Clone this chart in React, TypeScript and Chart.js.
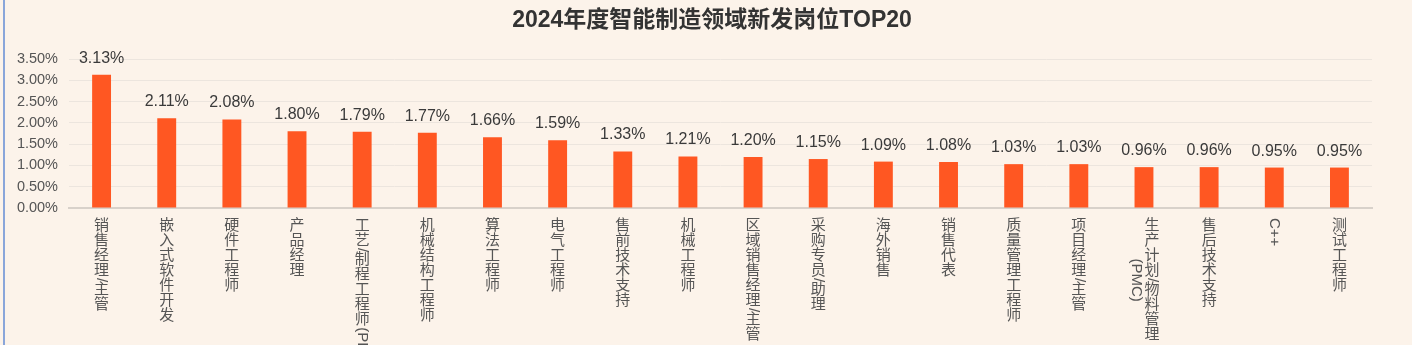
import React, { useEffect, useRef } from "react";
import { Chart, registerables } from "chart.js";

Chart.register(...registerables);

// Job titles (each entry is one or more vertical text columns)
const categories: string[][] = [
  ["销售经理/主管"],
  ["嵌入式软件开发"],
  ["硬件工程师"],
  ["产品经理"],
  ["工艺/制程工程师(PE)"],
  ["机械结构工程师"],
  ["算法工程师"],
  ["电气工程师"],
  ["售前技术支持"],
  ["机械工程师"],
  ["区域销售经理/主管"],
  ["采购专员/助理"],
  ["海外销售"],
  ["销售代表"],
  ["质量管理工程师"],
  ["项目经理/主管"],
  ["生产计划/物料管理", "(PMC)"],
  ["售后技术支持"],
  ["C++"],
  ["测试工程师"],
];

// Share of new postings, in percent
const shares: number[] = [
  3.13, 2.11, 2.08, 1.8, 1.79, 1.77, 1.66, 1.59, 1.33, 1.21,
  1.2, 1.15, 1.09, 1.08, 1.03, 1.03, 0.96, 0.96, 0.95, 0.95,
];

const yTicks: number[] = [0, 0.5, 1, 1.5, 2, 2.5, 3, 3.5];

const TITLE = "2024年度智能制造领域新发岗位TOP20";
const FONT = '"Liberation Sans", Arial, "Noto Sans CJK SC", sans-serif';
const BG = "#fcf3ea";
const BAR = "#ff5722";

const isUpright = (ch: string) => ch.charCodeAt(0) > 0x2e7f;

// Title text at the top centre
const titlePlugin = {
  id: "titleText",
  afterDraw(chart: any) {
    const { ctx } = chart;
    ctx.save();
    ctx.font = `bold 23px ${FONT}`;
    ctx.fillStyle = "#333333";
    ctx.textAlign = "center";
    ctx.textBaseline = "middle";
    ctx.fillText(TITLE, 712, 21);
    ctx.restore();
  },
};

// Value labels above every bar
const valueLabels = {
  id: "valueLabels",
  afterDatasetsDraw(chart: any) {
    const { ctx } = chart;
    const meta = chart.getDatasetMeta(0);
    ctx.save();
    ctx.font = `16px ${FONT}`;
    ctx.fillStyle = "#3a3a3a";
    ctx.textAlign = "center";
    ctx.textBaseline = "alphabetic";
    meta.data.forEach((bar: any, i: number) => {
      ctx.fillText(shares[i].toFixed(2) + "%", bar.x, bar.y - 12);
    });
    ctx.restore();
  },
};

// Vertical category labels: CJK glyphs upright, Latin runs turned 90° clockwise
const verticalLabels = {
  id: "verticalLabels",
  afterDraw(chart: any) {
    const { ctx } = chart;
    const xScale = chart.scales.x;
    const size = 15;
    const colGap = 16;
    const top = chart.chartArea.bottom + 10;
    ctx.save();
    ctx.font = `${size}px ${FONT}`;
    ctx.fillStyle = "#555555";

    const splitRuns = (s: string) => {
      const runs: { text: string; upright: boolean }[] = [];
      for (const ch of Array.from(s)) {
        const up = isUpright(ch);
        const last = runs[runs.length - 1];
        if (!up && last && !last.upright) last.text += ch;
        else runs.push({ text: ch, upright: up });
      }
      return runs;
    };
    const runLen = (r: { text: string; upright: boolean }) =>
      r.upright ? size : ctx.measureText(r.text).width;

    categories.forEach((lines, i) => {
      const cx = xScale.getPixelForTick(i);
      const lens = lines.map((l) => splitRuns(l).reduce((a, r) => a + runLen(r), 0));
      const maxLen = Math.max(...lens);
      const n = lines.length;
      lines.forEach((line, li) => {
        const colX = cx + ((n - 1) / 2 - li) * colGap;
        let y = top + (maxLen - lens[li]) / 2;
        for (const r of splitRuns(line)) {
          if (r.upright) {
            ctx.textAlign = "center";
            ctx.textBaseline = "middle";
            ctx.fillText(r.text, colX, y + size / 2);
            y += size;
          } else {
            const w = ctx.measureText(r.text).width;
            ctx.save();
            ctx.translate(colX, y);
            ctx.rotate(Math.PI / 2);
            ctx.textAlign = "left";
            ctx.textBaseline = "middle";
            ctx.fillText(r.text, 0, 0);
            ctx.restore();
            y += w;
          }
        }
      });
    });
    ctx.restore();
  },
};

export default function App() {
  const canvasRef = useRef<HTMLCanvasElement | null>(null);

  useEffect(() => {
    document.body.style.margin = "0";
    document.body.style.background = BG;
    const canvas = canvasRef.current;
    if (!canvas) return;
    const chart = new Chart(canvas, {
      type: "bar",
      data: {
        labels: categories.map((c) => c.join("")),
        datasets: [
          {
            data: shares,
            backgroundColor: BAR,
            borderWidth: 0,
            barPercentage: 0.29,
            categoryPercentage: 1,
          },
        ],
      },
      options: {
        animation: false,
        responsive: false,
        devicePixelRatio: 1,
        layout: { padding: { top: 59, right: 40, left: 0, bottom: 0 } },
        plugins: {
          legend: { display: false },
          title: { display: false },
          tooltip: { enabled: false },
        },
        scales: {
          x: {
            grid: { display: false },
            border: { display: true, color: "#d8d1ca", width: 2 },
            ticks: { display: false },
            afterFit(scale: any) {
              scale.height = 137;
            },
          },
          y: {
            min: 0,
            max: 3.5,
            afterBuildTicks(scale: any) {
              scale.ticks = yTicks.map((v) => ({ value: v }));
            },
            grid: { color: "#ece5de", lineWidth: 1, drawTicks: false },
            border: { display: false },
            ticks: {
              padding: 11,
              color: "#555555",
              font: { family: FONT, size: 14.5 },
              callback: (v: any) => Number(v).toFixed(2) + "%",
            },
            afterFit(scale: any) {
              scale.width = 69;
            },
          },
        },
      },
      plugins: [titlePlugin, valueLabels, verticalLabels],
    });
    return () => chart.destroy();
  }, []);

  return (
    <div style={{ position: "relative", width: 1412, height: 345, background: BG, overflow: "hidden" }}>
      <div style={{ position: "absolute", left: 3, top: 0, width: 2, height: 345, background: "#8aa6da" }} />
      <canvas ref={canvasRef} width={1412} height={345} style={{ display: "block" }} />
    </div>
  );
}
